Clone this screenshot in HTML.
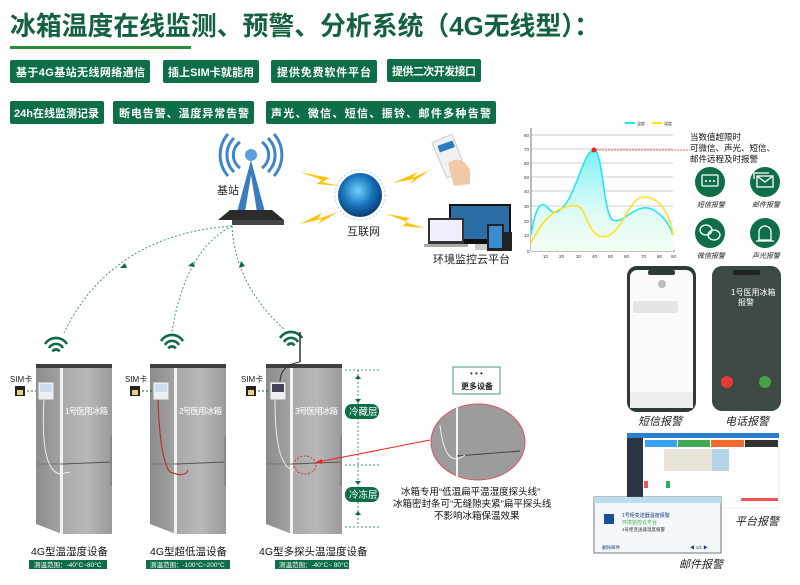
<!DOCTYPE html>
<html><head><meta charset="utf-8"><style>
html,body{margin:0;padding:0;background:#fff;}
body{width:800px;height:585px;overflow:hidden;position:relative;font-family:"Liberation Sans","Noto Sans CJK SC",sans-serif;}
svg{position:absolute;left:0;top:0;}
text{font-family:"Liberation Sans","Noto Sans CJK SC",sans-serif;}
</style></head><body>
<svg width="800" height="585" viewBox="0 0 800 585" xmlns="http://www.w3.org/2000/svg">
<defs>
<linearGradient id="front" x1="0" x2="1"><stop offset="0" stop-color="#a9a9a9"/><stop offset="0.5" stop-color="#b8b8b8"/><stop offset="1" stop-color="#9a9a9a"/></linearGradient>
<linearGradient id="side" x1="0" x2="1"><stop offset="0" stop-color="#8c8c8c"/><stop offset="1" stop-color="#a3a3a3"/></linearGradient>
<linearGradient id="cy" x1="0" y1="0" x2="0" y2="1"><stop offset="0" stop-color="#7ff0f5"/><stop offset="0.6" stop-color="#dcfbf5"/><stop offset="1" stop-color="#f4fff4"/></linearGradient>
<radialGradient id="globe" cx="0.45" cy="0.4" r="0.6"><stop offset="0" stop-color="#6fd3ff"/><stop offset="0.6" stop-color="#1670b8"/><stop offset="1" stop-color="#0b3d78"/></radialGradient>
<g id="fridge">
 <rect x="0" y="0" width="76" height="5" fill="#3e3e3e"/>
 <path d="M0 4 L26 4 L26 170 L0 160 Z" fill="url(#side)"/>
 <rect x="26" y="4" width="50" height="166" fill="url(#front)"/>
 <rect x="24" y="4" width="3" height="166" fill="#f2f2f2"/>
 <line x1="26" y1="100" x2="76" y2="98" stroke="#555" stroke-width="1"/>
 <line x1="0" y1="100" x2="26" y2="100" stroke="#777" stroke-width="1"/>
 <rect x="74" y="72" width="2" height="50" fill="#888"/>
</g>
<g id="wifi" fill="none" stroke="#0f6b45" stroke-width="2.6">
 <path d="M-11 -3 A13 13 0 0 1 11 -3"/><path d="M-7 1 A8 8 0 0 1 7 1"/><path d="M-3.5 4.5 A4 4 0 0 1 3.5 4.5"/>
</g>
</defs>

<!-- Title -->
<text x="10" y="35" font-size="26" font-weight="bold" fill="#13613f" textLength="590" lengthAdjust="spacingAndGlyphs">冰箱温度在线监测、预警、分析系统（4G无线型）：</text>
<rect x="10" y="46" width="181" height="3" fill="#2c8a3c"/>

<!-- badges -->
<g fill="#0e6e47">
<rect x="10" y="60" width="140" height="23" rx="2"/><rect x="163" y="60" width="96" height="23" rx="2"/>
<rect x="271" y="60" width="106" height="23" rx="2"/><rect x="387" y="59" width="94" height="23" rx="2"/>
<rect x="10" y="101" width="94" height="23" rx="2"/><rect x="113" y="101" width="141" height="23" rx="2"/>
<rect x="266" y="101" width="230" height="23" rx="2"/>
</g>
<g fill="#fff" font-size="11" font-weight="bold" lengthAdjust="spacingAndGlyphs">
<text x="16" y="76" textLength="129">基于4G基站无线网络通信</text><text x="168" y="76" textLength="86">插上SIM卡就能用</text>
<text x="277" y="76" textLength="94">提供免费软件平台</text><text x="392" y="75" textLength="84">提供二次开发接口</text>
<text x="14" y="117" textLength="85">24h在线监测记录</text><text x="119" y="117" textLength="130">断电告警、温度异常告警</text>
<text x="271" y="117" textLength="220">声光、微信、短信、振铃、邮件多种告警</text>
</g>

<!-- tower -->
<g>
 <g fill="none" stroke="#3f86c8" stroke-width="3">
  <path d="M240 168 A16 16 0 0 1 240 142"/><path d="M234 172 A24 24 0 0 1 234 138"/><path d="M228 176 A32 32 0 0 1 228 134"/>
  <path d="M262 168 A16 16 0 0 0 262 142"/><path d="M268 172 A24 24 0 0 0 268 138"/><path d="M274 176 A32 32 0 0 0 274 134"/>
 </g>
 <circle cx="251" cy="155" r="6" fill="#5aa0db"/>
 <path d="M251 160 L237 212 L245 212 L251 175 L257 212 L265 212 Z" fill="#3b7cc0"/>
 <path d="M230 210 L272 210 L284 220 L218 220 Z" fill="#2b2b2b"/>
 <rect x="232" y="220" width="52" height="5" fill="#444"/>
 <text x="217" y="194" font-size="11" fill="#222">基站</text>
</g>
<!-- bolts -->
<g fill="#ffc20e">
 <path d="M300 172 L330 178 L322 182 L340 186 L316 184 L322 180 Z"/>
 <path d="M300 224 L322 213 L318 219 L338 212 L318 224 L322 219 Z"/>
 <path d="M393 183 L418 172 L412 178 L430 170 L410 184 L414 179 Z"/>
 <path d="M386 214 L410 218 L404 222 L425 228 L402 226 L408 222 Z"/>
</g>
<!-- globe -->
<circle cx="360" cy="195" r="22" fill="url(#globe)"/>
<circle cx="360" cy="195" r="25" fill="none" stroke="#9fd8f2" stroke-width="1" stroke-dasharray="2 2"/>
<text x="347" y="235" font-size="11" fill="#222">互联网</text>
<!-- hand phone -->
<path d="M432 143 L452 134 L466 170 L447 178 Z" fill="#f1f1f1" stroke="#ccc"/>
<rect x="438" y="143" width="16" height="7" fill="#2c7cc0" transform="rotate(-20 446 146)"/>
<path d="M448 163 Q462 154 470 170 L470 184 L454 186 Z" fill="#f0c9a8"/>
<!-- platform -->
<rect x="449" y="204" width="62" height="40" fill="#111"/><rect x="451" y="206" width="58" height="33" fill="#2b6ea7"/>
<rect x="475" y="244" width="12" height="6" fill="#ccc"/>
<rect x="428" y="218" width="36" height="26" fill="#333"/><rect x="430" y="220" width="32" height="21" fill="#eef"/>
<rect x="424" y="244" width="44" height="3" fill="#aaa"/>
<rect x="487" y="224" width="17" height="27" fill="#222"/><rect x="489" y="226" width="13" height="22" fill="#3d8ad0"/>
<rect x="503" y="232" width="9" height="19" fill="#222"/>
<text x="433" y="263" font-size="11" fill="#222">环境监控云平台</text>

<!-- dotted curves -->
<g fill="none" stroke="#3b9a7a" stroke-width="1" stroke-dasharray="2 2">
 <path d="M232 226 Q110 235 63 335"/>
 <path d="M232 226 Q185 250 172 332"/>
 <path d="M232 226 Q235 285 285 330"/>
 <path d="M358 370 L358 526"/><path d="M345 370 L380 370"/><path d="M345 465 L380 465"/><path d="M345 527 L380 527"/>
</g>
<g fill="#0f6b45">
 <path d="M125 263 l-5 5 l7 0 z"/><path d="M193 262 l-5 4 l7 1 z"/><path d="M245 266 l-4 -5 l-2 7 z"/>
 <path d="M358 403 l-3 -4 l6 0 z"/><path d="M358 375 l-3 4 l6 0 z"/><path d="M358 485 l-3 -4 l6 0 z"/><path d="M358 511 l-3 4 l6 0 z"/>
</g>
<use href="#wifi" x="56" y="347"/><use href="#wifi" x="172" y="344"/><use href="#wifi" x="291" y="341"/>
<line x1="300" y1="332" x2="300" y2="362" stroke="#333" stroke-width="1.5"/>

<!-- fridges -->
<use href="#fridge" x="36" y="364"/><use href="#fridge" x="150" y="364"/><use href="#fridge" x="266" y="364"/>
<g fill="#fff" font-size="8.5" lengthAdjust="spacingAndGlyphs"><text x="65" y="414" textLength="43">1号医用冰箱</text><text x="179" y="414" textLength="43">2号医用冰箱</text><text x="295" y="414" textLength="43">3号医用冰箱</text></g>
<!-- devices -->
<g><rect x="38" y="382" width="16" height="18" fill="#eee" stroke="#999"/><rect x="40" y="384" width="12" height="8" fill="#cde"/>
<rect x="153" y="382" width="16" height="18" fill="#eee" stroke="#999"/><rect x="155" y="384" width="12" height="8" fill="#cde"/>
<rect x="270" y="382" width="16" height="18" fill="#eee" stroke="#999"/><rect x="272" y="384" width="12" height="8" fill="#445"/></g>
<path d="M44 400 Q40 470 60 474 L70 472" fill="none" stroke="#eee" stroke-width="1"/>
<path d="M158 400 Q160 460 170 472 Q185 478 188 470" fill="none" stroke="#b22" stroke-width="1"/>
<path d="M275 400 Q275 470 295 470" fill="none" stroke="#eee" stroke-width="1"/>
<path d="M280 382 Q280 365 300 362" fill="none" stroke="#333" stroke-width="1"/>
<!-- SIM -->
<g font-size="8" fill="#222"><text x="10" y="382">SIM卡</text><text x="125" y="382">SIM卡</text><text x="241" y="382">SIM卡</text></g>
<g fill="#222"><rect x="15" y="386" width="10" height="10"/><rect x="130" y="386" width="10" height="10"/><rect x="246" y="386" width="10" height="10"/></g>
<g fill="#e8d27a"><rect x="17" y="390" width="6" height="5"/><rect x="132" y="390" width="6" height="5"/><rect x="248" y="390" width="6" height="5"/></g>
<g stroke="#0f6b45" stroke-dasharray="2 2"><line x1="27" y1="391" x2="36" y2="391"/><line x1="142" y1="391" x2="152" y2="391"/><line x1="258" y1="391" x2="268" y2="391"/></g>
<!-- layer badges -->
<rect x="345" y="404" width="34" height="15" rx="7" fill="#0e6e47"/><text x="349" y="415" font-size="9.5" fill="#fff">冷藏层</text>
<rect x="345" y="487" width="34" height="15" rx="7" fill="#0e6e47"/><text x="349" y="498" font-size="9.5" fill="#fff">冷冻层</text>
<!-- labels under fridges -->
<g font-size="10.5" fill="#111"><text x="31" y="555">4G型温湿度设备</text><text x="150" y="555">4G型超低温设备</text><text x="259" y="555">4G型多探头温湿度设备</text></g>
<g fill="#0e6e47"><rect x="29" y="560" width="78" height="9"/><rect x="146" y="560" width="84" height="9"/><rect x="275" y="560" width="74" height="9"/></g>
<g font-size="6.5" fill="#fff"><text x="34" y="567">测温范围：-40°C~80°C</text><text x="150" y="567">测温范围：-100°C~200°C</text><text x="279" y="567">测温范围：-40°C~ 80°C</text></g>

<!-- red zoom -->
<ellipse cx="305" cy="465" rx="11" ry="9" fill="none" stroke="#d33" stroke-dasharray="2 1.5"/>
<line x1="318" y1="462" x2="430" y2="440" stroke="#e22" stroke-width="1"/>
<path d="M316 462 l6 -3 l0 5 z" fill="#e22"/>
<ellipse cx="478" cy="442" rx="47" ry="38" fill="#9c9c9c" stroke="#e05060" stroke-width="1"/>
<line x1="457" y1="405" x2="457" y2="478" stroke="#f4f4f4" stroke-width="2"/>
<line x1="457" y1="456" x2="520" y2="451" stroke="#444"/>
<path d="M440 425 Q445 470 465 455" fill="none" stroke="#eee"/>
<rect x="453" y="367" width="47" height="27" fill="#fff" stroke="#4a9a7a"/>
<text x="470" y="376" font-size="8" fill="#333">• • •</text>
<text x="461" y="389" font-size="8" font-weight="bold" fill="#222">更多设备</text>
<g font-size="9.5" fill="#111"><text x="401" y="495">冰箱专用“低温扁平温湿度探头线”</text><text x="393" y="507">冰箱密封条可“无缝隙夹紧”扁平探头线</text><text x="434" y="519">不影响冰箱保温效果</text></g>

<!-- chart -->
<g stroke="#bbb" stroke-width="0.8">
<line x1="531" y1="135" x2="673" y2="135"/><line x1="531" y1="149" x2="673" y2="149"/><line x1="531" y1="163" x2="673" y2="163"/><line x1="531" y1="177" x2="673" y2="177"/><line x1="531" y1="191" x2="673" y2="191"/><line x1="531" y1="206" x2="673" y2="206"/><line x1="531" y1="221" x2="673" y2="221"/><line x1="531" y1="235" x2="673" y2="235"/>
</g>
<line x1="531" y1="128" x2="531" y2="251" stroke="#555" stroke-width="0.8"/><line x1="531" y1="251" x2="675" y2="251" stroke="#555" stroke-width="0.8"/>
<path d="M531 235 C535 210 540 198 548 208 C554 216 560 212 567 202 C578 185 585 150 594 150 C603 150 603 215 613 220 C622 224 630 210 643 208 C655 206 668 220 673 235 L673 251 L531 251 Z" fill="url(#cy)"/>
<path d="M531 235 C535 210 540 198 548 208 C554 216 560 212 567 202 C578 185 585 150 594 150 C603 150 603 215 613 220 C622 224 630 210 643 208 C655 206 668 220 673 235" fill="none" stroke="#19e6f0" stroke-width="1.5"/>
<path d="M531 243 C540 225 550 212 563 208 C578 203 580 206 585 215 C592 235 600 240 610 235 C625 225 630 198 643 197 C660 196 670 215 673 235" fill="none" stroke="#ffe11a" stroke-width="1.5"/>
<circle cx="594" cy="150" r="2.5" fill="#e22"/>
<line x1="596" y1="150" x2="690" y2="150" stroke="#e33" stroke-width="0.7" stroke-dasharray="2 1"/>
<g font-size="4.5" fill="#333"><text x="524" y="137">80</text><text x="524" y="151">70</text><text x="524" y="165">60</text><text x="524" y="179">50</text><text x="524" y="193">40</text><text x="524" y="208">30</text><text x="524" y="223">20</text><text x="524" y="237">10</text><text x="527" y="253">0</text>
<text x="543" y="258">10</text><text x="559" y="258">20</text><text x="576" y="258">30</text><text x="592" y="258">40</text><text x="608" y="258">50</text><text x="624" y="258">60</text><text x="641" y="258">70</text><text x="657" y="258">80</text><text x="671" y="258">90</text></g>
<line x1="625" y1="123" x2="635" y2="123" stroke="#19e6f0" stroke-width="2"/><line x1="652" y1="123" x2="662" y2="123" stroke="#ffe11a" stroke-width="2"/>
<g font-size="4" fill="#333"><text x="637" y="125">温度</text><text x="664" y="125">湿度</text></g>

<!-- alert text -->
<g font-size="8.5" fill="#111"><text x="690" y="140">当数值超限时</text><text x="690" y="151">可微信、声光、短信、</text><text x="690" y="162">邮件远程及时报警</text></g>
<g fill="#0e6e47"><circle cx="710" cy="182" r="15"/><circle cx="765" cy="182" r="15"/><circle cx="710" cy="233" r="15"/><circle cx="765" cy="233" r="15"/></g>
<g fill="none" stroke="#fff" stroke-width="1.3">
<rect x="702" y="175" width="16" height="11" rx="1"/><rect x="757" y="176" width="16" height="11"/><path d="M757 176 L765 182 L773 176"/><path d="M754 179 L754 173 L769 173"/>
<ellipse cx="706" cy="230" rx="6" ry="5"/><ellipse cx="714" cy="235" rx="6" ry="5"/>
<path d="M759 240 L759 232 A6 6 0 0 1 771 232 L771 240 Z"/><line x1="756" y1="241" x2="774" y2="241"/>
</g>
<g fill="#fff"><circle cx="706" cy="181" r="1"/><circle cx="710" cy="181" r="1"/><circle cx="714" cy="181" r="1"/></g>
<g font-size="7" fill="#222" font-style="italic"><text x="697" y="207">短信报警</text><text x="752" y="207">邮件报警</text><text x="697" y="258">微信报警</text><text x="752" y="258">声光报警</text></g>

<!-- phones -->
<rect x="627" y="266" width="69" height="146" rx="10" fill="#2e3b35"/>
<rect x="630" y="270" width="63" height="138" rx="7" fill="#fafafa"/>
<rect x="648" y="270" width="27" height="5" rx="2" fill="#2e3b35"/>
<circle cx="662" cy="284" r="4" fill="#bbb"/>
<rect x="633" y="301" width="45" height="12" rx="2" fill="#e6e6e6"/>
<rect x="630" y="392" width="63" height="16" fill="#eee"/>
<rect x="712" y="266" width="69" height="145" rx="10" fill="#3b4a42"/>
<rect x="715" y="270" width="63" height="137" rx="7" fill="#3f4a44"/>
<rect x="733" y="270" width="27" height="5" rx="2" fill="#222"/>
<text x="731" y="295" font-size="8" fill="#fff">1号医用冰箱</text><text x="738" y="305" font-size="8" fill="#fff">报警</text>
<circle cx="727" cy="382" r="6" fill="#e53935"/><circle cx="765" cy="382" r="6" fill="#43a047"/>
<g font-size="11" font-style="italic" fill="#222"><text x="638" y="425">短信报警</text><text x="725" y="425">电话报警</text></g>

<!-- platform screenshot -->
<rect x="627" y="433" width="152" height="75" fill="#fff" stroke="#ddd" stroke-width="0.5"/>
<rect x="627" y="433" width="152" height="5" fill="#2a7fd0"/>
<rect x="627" y="438" width="16" height="70" fill="#2b3441"/>
<rect x="645" y="440" width="32" height="7" fill="#3aa0f0"/><rect x="678" y="440" width="32" height="7" fill="#3faa55"/><rect x="711" y="440" width="33" height="7" fill="#f26a2e"/><rect x="745" y="440" width="33" height="7" fill="#333"/>
<rect x="664" y="449" width="65" height="22" fill="#e8e4d8"/><rect x="712" y="449" width="17" height="22" fill="#b5d4ea"/>
<rect x="644" y="481" width="4" height="7" fill="#e55"/><rect x="666" y="481" width="4" height="7" fill="#3a5"/>
<rect x="741" y="498" width="37" height="3" fill="#e55"/>
<text x="735" y="525" font-size="11" font-style="italic" fill="#222">平台报警</text>
<!-- email popup -->
<rect x="594" y="497" width="127" height="56" fill="#f2f8fc" stroke="#555" stroke-width="0.8"/>
<rect x="594" y="497" width="127" height="6" fill="#bcdcf0"/>
<rect x="604" y="514" width="10" height="10" fill="#1a4f9a"/>
<g font-size="5" fill="#1d3d7a"><text x="622" y="517">1号柜变送器温度报警</text></g>
<text x="622" y="524" font-size="5" fill="#4cae3c">环境监控云平台</text>
<text x="622" y="531" font-size="4.5" fill="#333">1号柜变送器温度报警</text>
<text x="602" y="549" font-size="4.5" fill="#1d3d7a">删除邮件</text>
<text x="690" y="549" font-size="4.5" fill="#1d3d7a">◀ 1/1 ▶</text>
<text x="679" y="568" font-size="11" font-style="italic" fill="#222">邮件报警</text>
</svg>
</body></html>
